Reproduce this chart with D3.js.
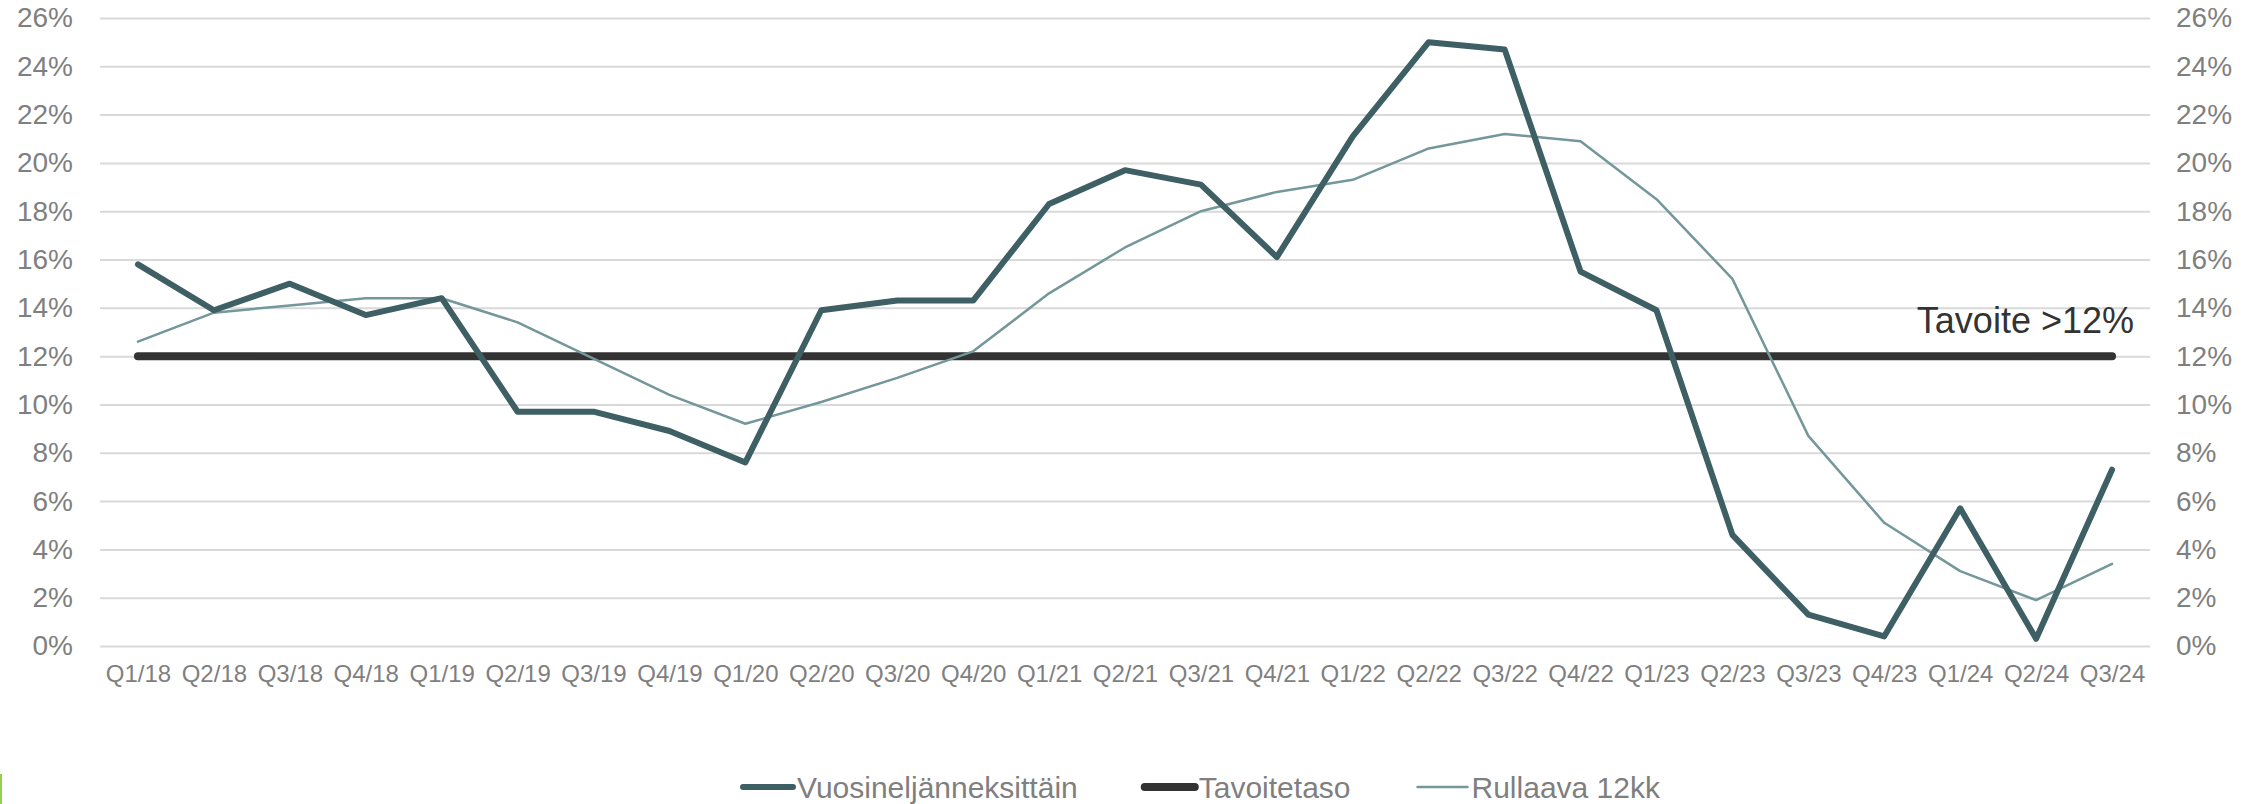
<!DOCTYPE html>
<html>
<head>
<meta charset="utf-8">
<script src="https://cdn.jsdelivr.net/npm/d3@7"></script>
<style>
  body { margin: 0; background: #fff; }
  svg { display: block; font-family: Arial, "Liberation Sans", sans-serif; }
</style>
</head>
<body>
<svg id="js-svg" width="2262" height="804"></svg>
<script>
const quarters = ["Q1/18","Q2/18","Q3/18","Q4/18","Q1/19","Q2/19","Q3/19","Q4/19","Q1/20","Q2/20","Q3/20","Q4/20",
  "Q1/21","Q2/21","Q3/21","Q4/21","Q1/22","Q2/22","Q3/22","Q4/22","Q1/23","Q2/23","Q3/23","Q4/23","Q1/24","Q2/24","Q3/24"];
const quarterly = [15.8,13.9,15.0,13.7,14.4,9.7,9.7,8.9,7.6,13.9,14.3,14.3,
  18.3,19.7,19.1,16.1,21.1,25.0,24.7,15.5,13.9,4.6,1.3,0.4,5.7,0.3,7.3];
const rolling = [12.6,13.8,14.1,14.4,14.4,13.4,11.9,10.4,9.2,10.1,11.1,12.2,
  14.6,16.5,18.0,18.8,19.3,20.6,21.2,20.9,18.5,15.2,8.7,5.1,3.1,1.9,3.4];
const target = quarters.map(() => 12);
const yTicks = d3.range(0, 27, 2);
const legendNames = ["Vuosineljänneksittäin", "Tavoitetaso", "Rullaava 12kk"];

const plotLeft = 100, plotRight = 2150, plotTop = 18, plotBottom = 646;
const svg = d3.select("#js-svg");

const x = d3.scalePoint().domain(quarters).range([plotLeft, plotRight]).padding(0.5);
const y = d3.scaleLinear().domain([0, 26]).range([plotBottom, plotTop]);

// gridlines
svg.append("g")
  .attr("transform", `translate(${plotLeft},0)`)
  .call(d3.axisLeft(y).tickValues(yTicks).tickSize(-(plotRight - plotLeft)).tickFormat(""))
  .call(g => g.select(".domain").remove())
  .call(g => g.selectAll("line").attr("stroke", "#d9d9d9").attr("stroke-width", 2));

// left axis
svg.append("g")
  .attr("transform", `translate(${plotLeft},0)`)
  .call(d3.axisLeft(y).tickValues(yTicks).tickSize(0).tickPadding(27).tickFormat(d => d + "%"))
  .call(g => g.select(".domain").remove())
  .call(g => g.selectAll("text").attr("fill", "#7f7f7f").style("font-size", "28px")
    .style("font-family", "Arial, 'Liberation Sans', sans-serif"));

// right axis
svg.append("g")
  .attr("transform", `translate(${plotRight},0)`)
  .call(d3.axisRight(y).tickValues(yTicks).tickSize(0).tickPadding(26).tickFormat(d => d + "%"))
  .call(g => g.select(".domain").remove())
  .call(g => g.selectAll("text").attr("fill", "#7f7f7f").style("font-size", "28px")
    .style("font-family", "Arial, 'Liberation Sans', sans-serif"));

// x axis
svg.append("g")
  .attr("transform", `translate(0,${plotBottom})`)
  .call(d3.axisBottom(x).tickSize(0).tickPadding(19))
  .call(g => g.select(".domain").remove())
  .call(g => g.selectAll("text").attr("fill", "#7f7f7f").style("font-size", "24px")
    .style("font-family", "Arial, 'Liberation Sans', sans-serif"));

const line = d3.line().x((d, i) => x(quarters[i])).y(d => y(d));

const series = [
  { name: legendNames[1], values: target, color: "#333333", width: 8 },
  { name: legendNames[2], values: rolling, color: "#74979b", width: 2.5 },
  { name: legendNames[0], values: quarterly, color: "#3e5f63", width: 6 }
];

svg.append("g").selectAll("path")
  .data(series)
  .join("path")
  .attr("d", d => line(d.values))
  .attr("fill", "none")
  .attr("stroke", d => d.color)
  .attr("stroke-width", d => d.width)
  .attr("stroke-linejoin", "round")
  .attr("stroke-linecap", "round");

svg.append("text")
  .attr("x", 2134)
  .attr("y", 333)
  .attr("text-anchor", "end")
  .attr("fill", "#333333")
  .style("font-size", "36px")
  .text("Tavoite >12%");

// legend
const legendOrder = [series[2], series[0], series[1]];
const legend = svg.append("g").attr("transform", "translate(740,787)");
let lx = 0;
legendOrder.forEach(s => {
  const item = legend.append("g").attr("transform", `translate(${lx},0)`);
  item.append("line")
    .attr("x1", 3).attr("x2", 53)
    .attr("stroke", s.color)
    .attr("stroke-width", s.width)
    .attr("stroke-linecap", "round");
  const t = item.append("text")
    .attr("x", 57)
    .attr("dy", "0.36em")
    .attr("fill", "#7f7f7f")
    .style("font-size", "30px")
    .text(s.name);
  lx += 57 + t.node().getComputedTextLength() + 64;
});

// small green mark at lower left edge
svg.append("line")
  .attr("x1", 1).attr("x2", 1)
  .attr("y1", 774).attr("y2", 804)
  .attr("stroke", "#92d050")
  .attr("stroke-width", 2);
</script>
</body>
</html>
